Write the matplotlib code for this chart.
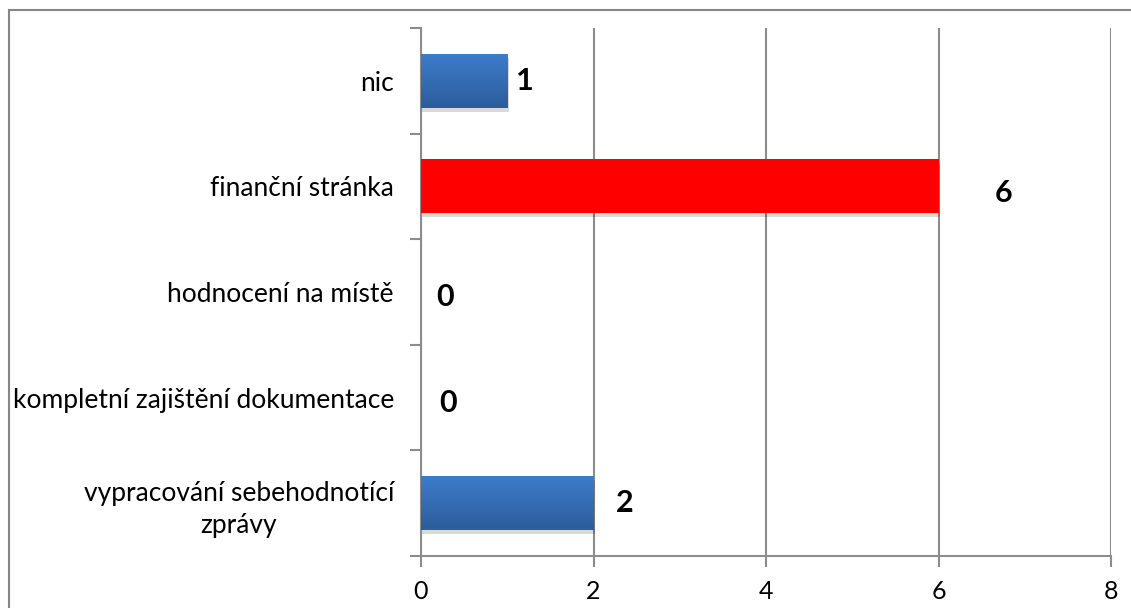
import matplotlib.pyplot as plt
import matplotlib.patches as mpatches
import matplotlib.patheffects as pe
from matplotlib.colors import LinearSegmentedColormap
import numpy as np

plt.rcParams['font.family'] = ['Lato', 'DejaVu Sans']

# data (bottom to top)
categories = ['vypracování sebehodnotící\nzprávy', 'kompletní zajištění dokumentace',
              'hodnocení na místě', 'finanční stránka', 'nic']
values = [2, 0, 0, 6, 1]
xticks = [0, 2, 4, 6, 8]

# label placement tweaks (data units)
label_dx = [0.365, 0.313, 0.278, 0.76, 0.206]
label_dy = [0.0, -0.05, -0.05, -0.065, 0.0]
bar_colors = ['#3a72bf', '#3a72bf', '#3a72bf', '#ff0000', '#3a72bf']

fig = plt.figure(figsize=(11.31, 6.08), dpi=100)
ax = fig.add_axes([421 / 1131, 1 - 556 / 608, 690 / 1131, 528 / 608])

# outer frame of the chart (cut off right and bottom)
frame = mpatches.Rectangle((9 / 1131, -0.2), 1.2, 1.2 - 10 / 608,
                           transform=fig.transFigure, fill=False,
                           edgecolor='#868686', lw=1.5)
fig.patches.append(frame)

gray = '#8c8c8c'
y = np.arange(len(categories))
ax.set_xlim(0, 8)
ax.set_ylim(-0.5, len(categories) - 0.5)
ax.set_xticks(xticks)
ax.xaxis.grid(True, color=gray, lw=1.5)
ax.set_axisbelow(True)

shadow = [pe.SimplePatchShadow(offset=(1, -3), shadow_rgbFace='#000000', alpha=0.15), pe.Normal()]
bars = ax.barh(y, values, height=0.51, color=bar_colors, zorder=3, path_effects=shadow)

# gradient fill for the blue bars (lighter on top)
grad = np.linspace(0, 1, 100).reshape(-1, 1)
cmap = LinearSegmentedColormap.from_list('bl', ['#2c5d9c', '#3d7cca'])
for b, c in zip(bars, bar_colors):
    if c == '#ff0000' or b.get_width() == 0:
        continue
    x0, y0 = b.get_x(), b.get_y()
    im = ax.imshow(grad, cmap=cmap, aspect='auto', zorder=4, origin='lower',
                   extent=[x0, x0 + b.get_width(), y0, y0 + b.get_height()],
                   interpolation='bilinear')
    im.set_clip_path(b)

for i, v in enumerate(values):
    ax.text(v + label_dx[i], y[i] + label_dy[i], str(v), ha='center', va='center',
            fontsize=22, fontweight='bold', color='black', zorder=5)

ax.set_yticks(y)
ax.set_yticklabels(categories, multialignment='center', linespacing=1.35)
ax.set_yticks(np.arange(-0.5, len(categories), 1), minor=True)
ax.tick_params(axis='y', which='major', length=0, pad=19.5, labelsize=19)
ax.tick_params(axis='y', which='minor', length=8, width=1.5, color=gray, direction='out')
ax.tick_params(axis='x', length=8, width=1.5, color=gray, direction='out', pad=9, labelsize=18)

for s in ['top', 'right']:
    ax.spines[s].set_visible(False)
for s in ['left', 'bottom']:
    ax.spines[s].set_color(gray)
    ax.spines[s].set_linewidth(1.5)

fig.savefig('out.png', dpi=100)
